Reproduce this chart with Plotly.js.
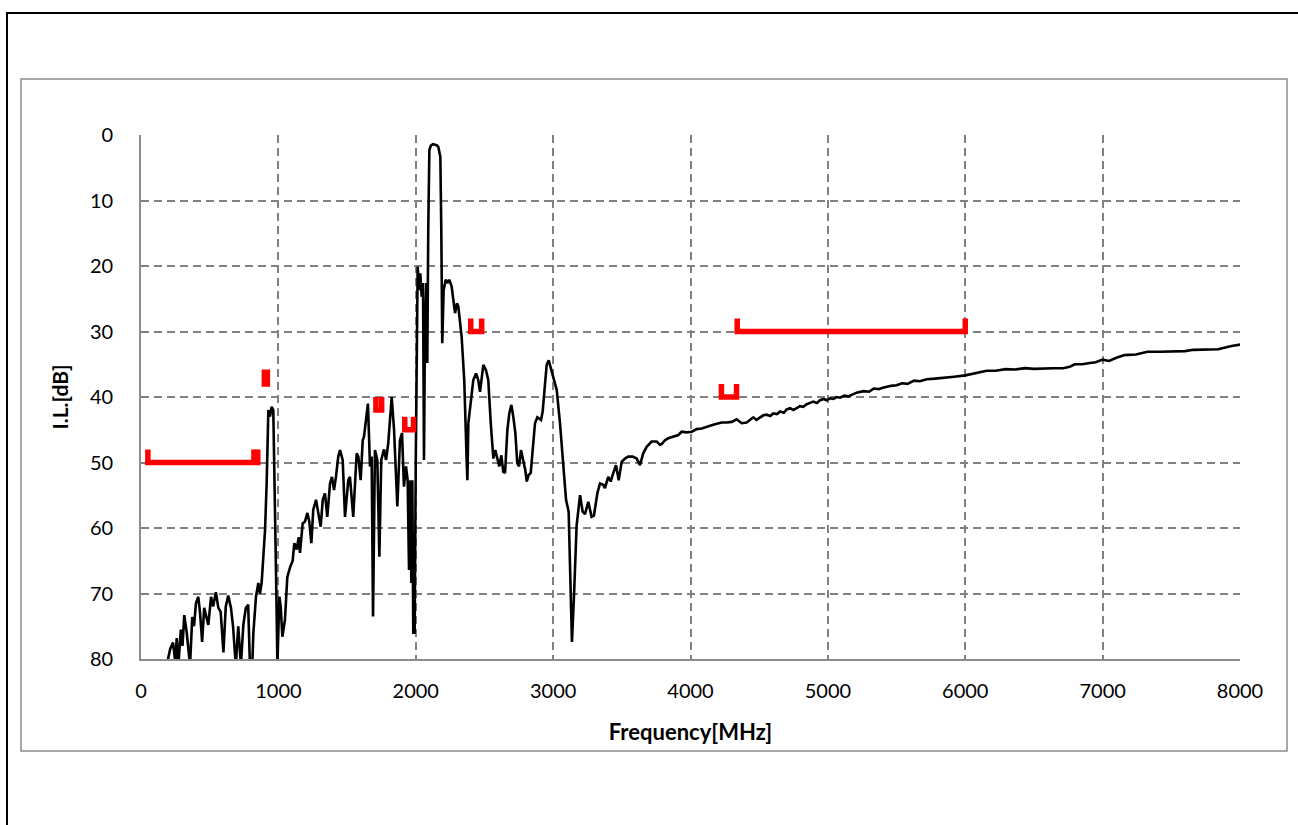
<!DOCTYPE html>
<html>
<head>
<meta charset="utf-8">
<script src="https://cdn.plot.ly/plotly-3.0.1.min.js"></script>
<style>
html,body{margin:0;padding:0;background:#fff;}
#chart{width:1298px;height:825px;}
</style>
</head>
<body>
<div id="chart"></div>
<script>
// Measured insertion loss curve (frequency in MHz, I.L. in dB)
const freq = [190,197,212,233,250,260,272,290,302,315,333,357,373,386,400,417,430,445,460,475,490,510,525,545,563,580,600,617,635,655,670,690,708,727,745,763,780,793,810,818,837,854,866,878,890,903,915,927,939,951,963,975,983,993,1007,1017,1029,1048,1065,1085,1104,1116,1133,1148,1157,1177,1194,1211,1225,1240,1254,1274,1291,1308,1323,1339,1356,1376,1390,1405,1419,1436,1449,1468,1485,1509,1521,1545,1570,1582,1599,1614,1623,1638,1652,1667,1679,1689,1703,1720,1735,1749,1769,1784,1800,1825,1842,1866,1885,1900,1914,1929,1941,1951,1961,1968,1975,1982,1992,2000,2008,2014,2024,2033,2043,2053,2060,2067,2077,2084,2091,2099,2110,2125,2140,2155,2164,2179,2186,2193,2203,2218,2232,2244,2261,2273,2286,2300,2310,2334,2353,2371,2376,2383,2400,2419,2439,2455,2468,2492,2511,2528,2546,2565,2579,2594,2608,2623,2637,2650,2667,2681,2696,2710,2725,2739,2752,2766,2783,2797,2808,2822,2837,2851,2868,2885,2899,2912,2924,2941,2953,2968,2982,3001,3026,3050,3074,3094,3113,3123,3137,3152,3171,3196,3215,3232,3256,3280,3297,3322,3341,3365,3377,3401,3419,3438,3458,3477,3499,3523,3547,3579,3608,3632,3656,3681,3717,3754,3778,3790,3814,3838,3875,3911,3936,3972,4009,4045,4082,4118,4154,4191,4227,4263,4300,4336,4373,4409,4440,4457,4480,4506,4530,4555,4580,4603,4630,4652,4680,4700,4725,4749,4775,4797,4820,4846,4870,4894,4920,4943,4970,4991,5015,5040,5065,5088,5120,5150,5181,5215,5260,5300,5334,5370,5400,5430,5460,5500,5540,5580,5627,5670,5720,5780,5850,5920,6000,6080,6156,6220,6295,6360,6435,6500,6574,6640,6713,6760,6797,6850,6908,6950,7000,7047,7100,7159,7242,7326,7420,7521,7600,7660,7750,7841,7939,8000];
const insertionLoss = [82,80,78.5,77.5,80.5,76.8,81,75.5,78,73.3,76,81,73.6,75,71.5,70.5,73,77.4,72.2,73.5,74.8,70.5,72,69.8,72.2,72.8,79,72,70.3,72.2,75,81,75,81,74.8,72.2,71.7,81,81,76,70.5,68.4,70,68.4,63.8,60.3,53,42,43,41.5,42,54,67,81,70.5,72,76.6,74,67.5,66,65,62.3,63.3,61.4,63.8,59.3,59,57.7,59,62.3,57.2,55.7,57.5,59.8,55.7,54.7,58.3,53.2,52.2,54.2,52.2,49.1,48.1,49.6,58.3,52.7,52.2,58.3,48.6,49.1,52.7,46.6,46.1,43.5,41,50.6,49.1,73.5,48.1,49.6,64.4,49.6,48,49.6,47,40,45,56.7,46.6,45.5,53.7,50.6,52.7,66.4,52.7,68.4,52.7,76,76,50,30,20.1,23.7,21.1,24.7,22.6,49.6,29.8,22.6,34.8,14.5,2.3,1.6,1.4,1.5,1.6,1.8,3.3,14.5,31.8,23.7,22.1,22.6,22.1,23.1,25.2,27.2,25.7,26.2,30.8,37.4,50,52.7,44,40.5,37.4,36.4,37.4,39.2,35.1,35.9,37.4,44,49.4,48.1,49.6,50.6,48.9,51.4,51.6,45,42.5,41.2,43,45.5,50.1,50.6,48.1,49.6,51.1,52.9,51.9,51.6,47.6,44,43.1,43.3,43.5,42.2,37.4,35.1,34.4,35.4,36.9,38.9,44,50.6,55.7,57.5,66.9,77.4,70.3,59.6,55,57.5,57.9,56,58.3,58.1,54.7,53.2,53.4,53.9,52.2,52.9,51.6,50.4,52.7,49.9,49.4,49.1,49.1,49.4,50.4,48.6,47.6,46.8,46.8,47.3,47.2,46.6,46.3,46.1,45.8,45.3,45.4,45.3,44.9,44.8,44.5,44.3,44.1,43.9,43.9,43.8,43.4,44,43.9,43.4,43.1,43.5,43.1,42.8,42.7,42.9,42.5,42.6,42.2,42.4,41.9,41.7,42,41.7,41.4,41.5,41.1,40.9,40.7,40.9,40.5,40.3,40.5,40.2,40.3,40.0,40.1,39.8,39.9,39.6,39.3,39.1,39.2,38.7,38.8,38.6,38.4,38.3,38.2,37.9,38.0,37.5,37.6,37.3,37.2,37.0,36.9,36.7,36.4,36.0,36.0,35.75,35.8,35.6,35.7,35.6,35.6,35.6,35.4,35.0,35.0,34.8,34.7,34.3,34.5,34.0,33.6,33.5,33.1,33.1,33.1,33.0,32.8,32.8,32.7,32.2,32.0];

// Specification masks (red U-brackets): frequency edges and levels
const maskX = [50,50,850,850,null,822,822,null,898,898,920,920,null,1710,1710,1752,1752,null,1920,1920,1984,1984,null,2400,2400,2480,2480,null,4225,4225,4335,4335,null,4340,4340,6000,6000];
const maskY = [48,50,50,48,null,48,50,null,35.8,38,38,35.8,null,40,42,42,40,null,43,45,45,43,null,28,30,30,28,null,38,40,40,38,null,28,30,30,28];

const xTicks = [0,1000,2000,3000,4000,5000,6000,7000,8000];
const yTicks = [0,10,20,30,40,50,60,70,80];

const FONT = 'Lato, "Liberation Sans", sans-serif';

// paper coordinate helpers for the frames (plot area: x 141..1240, y 135..659)
const px = x => (x - 141) / 1099;
const py = y => (659 - y) / 524;

const traces = [
  {x: freq, y: insertionLoss, type: 'scatter', mode: 'lines',
   line: {color: '#000000', width: 2.6}, hoverinfo: 'x+y', showlegend: false},
  {x: maskX, y: maskY, type: 'scatter', mode: 'lines', connectgaps: false,
   line: {color: '#ff0000', width: 5.5}, showlegend: false, hoverinfo: 'skip'}
];

const layout = {
  width: 1298, height: 825,
  margin: {l: 141, r: 58, t: 135, b: 166},
  paper_bgcolor: '#ffffff', plot_bgcolor: '#ffffff',
  font: {family: FONT, size: 20, color: '#000000'},
  showlegend: false,
  xaxis: {
    range: [0, 8000], tickvals: xTicks, ticktext: xTicks.map(String),
    showgrid: true, gridcolor: '#808080', griddash: '8px,5px', gridwidth: 1.5,
    showline: true, linecolor: '#8c8c8c', linewidth: 1.8, mirror: false,
    zeroline: false, ticks: '', ticklabelstandoff: 13,
    tickfont: {family: FONT, size: 20, color: '#000'},
    title: {text: '<b>Frequency[MHz]</b>', font: {family: FONT, size: 22, color: '#000'}, standoff: 24}
  },
  yaxis: {
    range: [80, 0], tickvals: yTicks, ticktext: yTicks.map(String),
    showgrid: true, gridcolor: '#808080', griddash: '8px,5px', gridwidth: 1.5,
    showline: true, linecolor: '#8c8c8c', linewidth: 1.8,
    zeroline: false, ticks: '', ticklabelstandoff: 22,
    tickfont: {family: FONT, size: 20, color: '#000'},
    title: {text: '<b>I.L.[dB]</b>', font: {family: FONT, size: 21, color: '#000'}, standoff: 16}
  },
  shapes: [
    {type: 'rect', xref: 'paper', yref: 'paper', x0: px(7), x1: px(1310), y0: py(840), y1: py(13),
     line: {color: '#000000', width: 2}, fillcolor: 'rgba(0,0,0,0)', layer: 'below'},
    {type: 'rect', xref: 'paper', yref: 'paper', x0: px(21), x1: px(1287), y0: py(751), y1: py(79),
     line: {color: '#8c8c8c', width: 1.5}, fillcolor: 'rgba(0,0,0,0)', layer: 'below'}
  ]
};

Plotly.newPlot('chart', traces, layout, {displayModeBar: false, staticPlot: false});
</script>
</body>
</html>
